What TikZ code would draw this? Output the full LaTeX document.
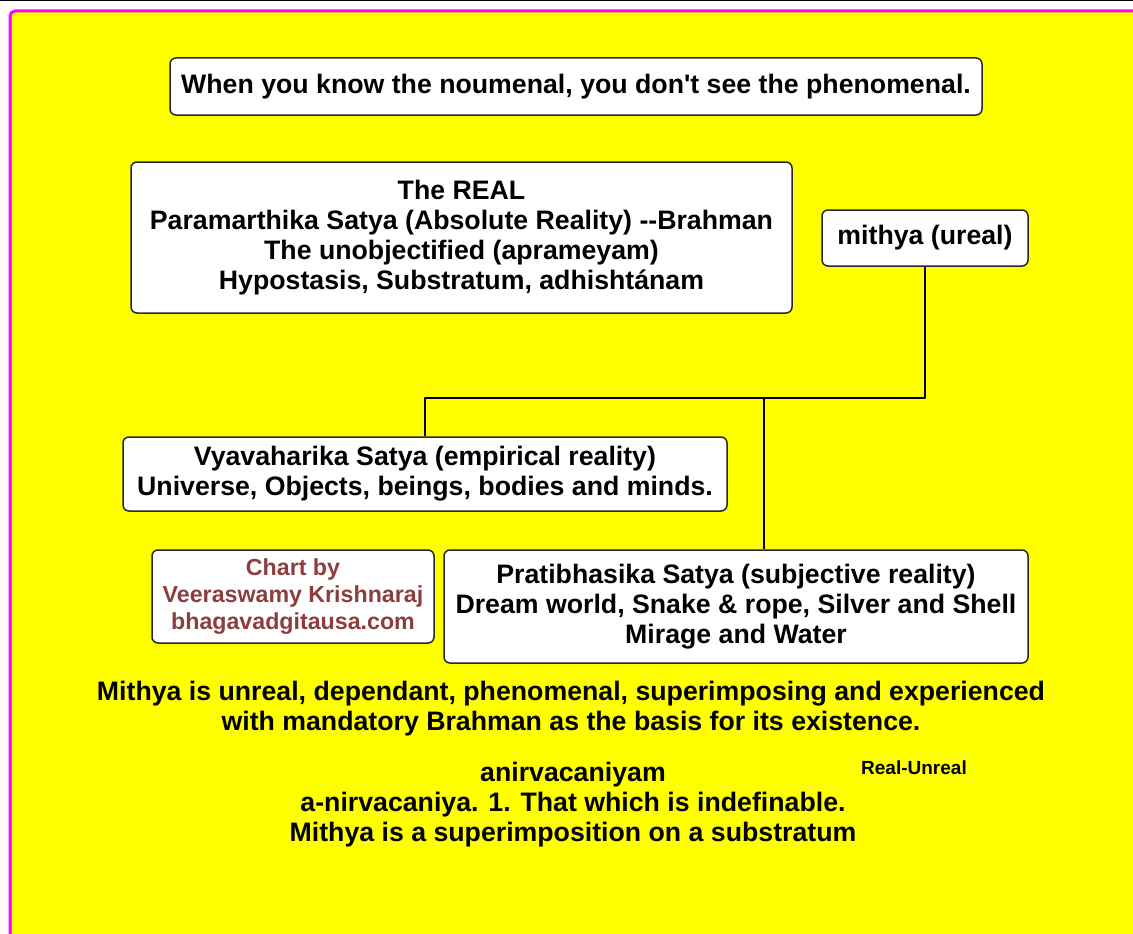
\documentclass[tikz,border=0pt]{standalone}
\usepackage{fontspec}
\setmainfont{Liberation Sans}[Ligatures=TeXOff]
\usetikzlibrary{positioning}
\definecolor{chart_brown}{RGB}{140,62,62}
\definecolor{box_edge}{RGB}{40,40,40}
\definecolor{page_yellow}{RGB}{255,255,0}
\definecolor{page_magenta}{RGB}{255,0,255}

\begin{document}
\begin{tikzpicture}[x=1pt,y=-1pt,line join=round,
  box/.style={draw=box_edge,line width=1.5pt,fill=white,rounded corners=6pt,
    align=center,inner sep=0pt,font=\fontsize{26.7}{30}\selectfont\bfseries},
  plain/.style={align=center,inner sep=0pt,font=\fontsize{26.7}{30}\selectfont\bfseries}]
  \clip (0,0) rectangle (1133,934);
  \fill[white] (0,0) rectangle (1133,934);
  \draw[line width=2pt] (0,0) -- (1133,0);
  \filldraw[fill=page_yellow,draw=page_magenta,line width=3pt,rounded corners=5pt] (10,11) rectangle (1160,960);

  \node[box,minimum width=812,minimum height=57] (quote) at (576,86.5)
    {When you know the noumenal, you don't see the phenomenal.};
  \node[box,minimum width=661,minimum height=151] (real) at (461.5,237.5)
    {The REAL\\Paramarthika Satya (Absolute Reality) --Brahman\\The unobjectified (aprameyam)\\Hypostasis, Substratum, adhisht\'anam};
  \node[box,minimum width=206,minimum height=56] (mithya) at (925,238) {mithya (ureal)};
  \node[box,minimum width=604,minimum height=74] (vya) at (425,474)
    {Vyavaharika Satya (empirical reality)\\Universe, Objects, beings, bodies and minds.};
  \node[box,minimum width=282,minimum height=93,text=chart_brown,
    font=\fontsize{23.2}{27}\selectfont\bfseries] (chart) at (293,596.5)
    {Chart by\\Veeraswamy Krishnaraj\\bhagavadgitausa.com};
  \node[box,minimum width=584,minimum height=113] (prat) at (736,606.5)
    {Pratibhasika Satya (subjective reality)\\Dream world, Snake \& rope, Silver and Shell\\Mirage and Water};

  % connectors
  \coordinate (bend) at (764,398);
  \draw[line width=1.5pt] (mithya.south) |- (vya.north |- bend) -- (vya.north);
  \draw[line width=1.5pt] (bend) -- (bend |- prat.north);

  \node[plain] (note) at (571,709)
    {Mithya is unreal, dependant, phenomenal, superimposing and experienced\\with mandatory Brahman as the basis for its existence.};
  \node[plain] (anir) at (573,805)
    {anirvacaniyam\\a-nirvacaniya. 1. That which is indefinable.\\Mithya is a superimposition on a substratum};
  \node[plain,font=\fontsize{19}{22}\selectfont\bfseries] (realunreal) at (914,768) {Real-Unreal};
\end{tikzpicture}
\end{document}
